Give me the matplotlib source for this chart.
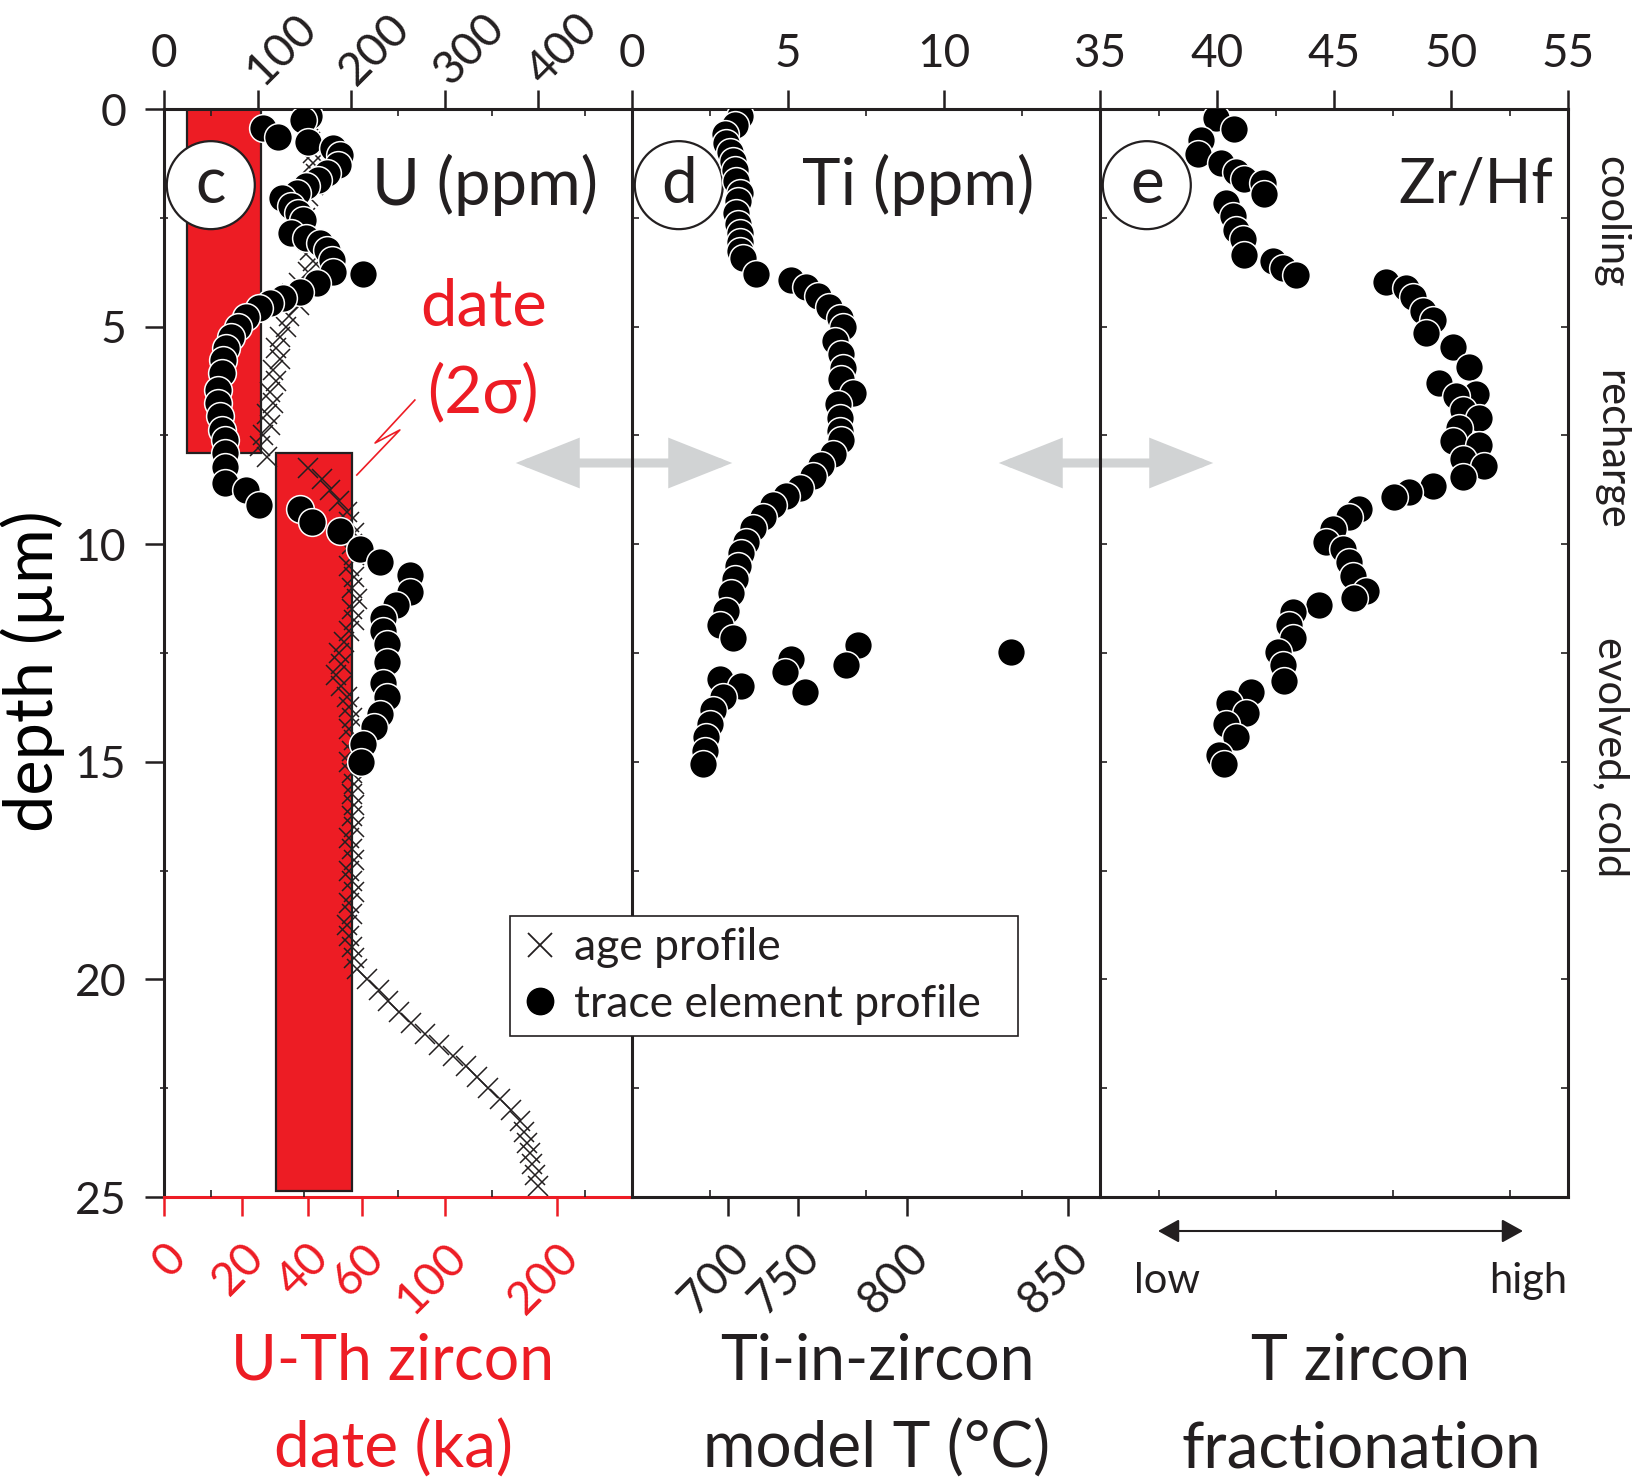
import numpy as np
import matplotlib.pyplot as plt
import matplotlib.transforms as mtransforms
from matplotlib.patches import Rectangle, Ellipse, FancyArrowPatch
from matplotlib.lines import Line2D

plt.rcParams['font.family'] = ['Lato', 'DejaVu Sans']
RED = '#ED1C24'
INK = '#231F20'
GREY = '#D1D3D4'
plt.rcParams['text.color'] = INK
plt.rcParams['axes.edgecolor'] = INK
plt.rcParams['xtick.color'] = INK
plt.rcParams['ytick.color'] = INK

# U-Th age profile: depth (um) and model date (ka)
age_depth = [0.25, 0.5, 0.75, 1.0, 1.25, 1.5, 1.75, 2.0, 2.25, 2.5, 2.75, 3.0, 3.25, 3.5,
             3.75, 4.0, 4.25, 4.5, 4.75, 5.0, 5.25, 5.5, 5.75, 6.0, 6.25, 6.5, 6.75, 7.0,
             7.25, 7.5, 7.75, 8.0, 8.25, 8.5, 8.75, 9.0, 9.25, 9.5, 9.75, 10.0, 10.25,
             10.5, 10.75, 11.0, 11.25, 11.5, 11.75, 12.0, 12.25, 12.5, 12.75, 13.0, 13.25,
             13.5, 13.75, 14.0, 14.25, 14.5, 14.75, 15.0, 15.25, 15.5, 15.75, 16.0, 16.25,
             16.5, 16.75, 17.0, 17.25, 17.5, 17.75, 18.0, 18.25, 18.5, 18.75, 19.0, 19.25,
             19.5, 19.75, 20.0, 20.25, 20.5, 20.75, 21.0, 21.25, 21.5, 21.75, 22.0, 22.25,
             22.5, 22.75, 23.0, 23.25, 23.5, 23.75, 24.0, 24.25, 24.5, 24.75]
age_ka = [40, 41, 41, 42, 42, 43, 42, 40, 38, 39, 39, 40, 41, 42,
          40, 37, 35, 37, 34, 33, 31, 30, 31, 29, 30, 28, 29, 27,
          28, 26, 25, 27, 40, 45, 48, 51, 54, 55, 57, 56, 57,
          55, 57, 56, 58, 56, 57, 55, 53, 51, 52, 50, 52,
          54, 55, 56, 55, 57, 56, 55, 56, 57, 56, 57, 56,
          57, 55, 56, 57, 55, 56, 57, 55, 56, 54, 55, 56,
          57, 58, 62, 67, 71, 76, 82, 89, 97, 105, 113, 121,
          129, 138, 148, 156, 160, 163, 166, 169, 172, 175]

# 2 sigma date ranges (ka) and the depth interval they cover (um)
date_young = [5.4, 29.8]
date_old = [25.5, 56.0]
date_top = [0.0, 7.9]
date_bottom = [7.9, 24.87]

# trace element profiles
u_depth = [0.17, 0.25, 0.44, 0.64, 0.75, 0.9, 1.05, 1.29, 1.47, 1.62, 1.78, 1.93, 2.05, 2.24,
           2.4, 2.55, 2.86, 2.97, 3.09, 3.24, 3.47, 3.74, 3.78, 4.0, 4.2, 4.35, 4.46, 4.57,
           4.77, 5.0, 5.23, 5.5, 5.77, 6.07, 6.45, 6.76, 7.06, 7.37, 7.6, 7.9, 8.22, 8.6,
           8.75, 9.1, 9.2, 9.5, 9.7, 10.1, 10.4, 10.7, 11.1, 11.4, 11.7, 12.0, 12.3, 12.7,
           13.2, 13.5, 13.9, 14.2, 14.6, 15.0]
u_ppm = [155, 149, 106, 122, 154, 181, 188, 186, 174, 164, 152, 142, 126, 136,
         143, 149, 136, 152, 167, 174, 179, 181, 213, 163, 145, 127, 113, 101,
         88, 79, 72, 66, 63, 62, 58, 58, 60, 62, 65, 65, 65, 65,
         88, 102, 145, 158, 188, 209, 231, 263, 263, 248, 234, 234, 238, 238,
         234, 238, 231, 224, 213, 211]

ti_depth = [0.16, 0.36, 0.57, 0.78, 0.98, 1.19, 1.4, 1.66, 1.92, 2.12, 2.38, 2.64, 2.85, 3.05,
            3.26, 3.42, 3.78, 3.93, 4.09, 4.3, 4.55, 4.81, 5.02, 5.33, 5.64, 5.95, 6.21, 6.52,
            6.78, 7.09, 7.4, 7.61, 7.92, 8.18, 8.44, 8.7, 8.9, 9.11, 9.37, 9.63, 9.94, 10.2,
            10.5, 10.8, 11.13, 11.54, 11.85, 12.16, 12.32, 12.47, 12.63, 12.78, 12.94, 13.1,
            13.25, 13.4, 13.5, 13.82, 14.13, 14.44, 14.75, 15.06]
ti_ppm = [3.45, 3.29, 2.97, 3.02, 3.13, 3.24, 3.29, 3.34, 3.45, 3.4, 3.34, 3.4, 3.45, 3.45,
          3.45, 3.56, 3.98, 5.1, 5.59, 5.96, 6.33, 6.66, 6.76, 6.5, 6.71, 6.76, 6.71, 7.08,
          6.6, 6.66, 6.66, 6.71, 6.44, 6.07, 5.8, 5.37, 4.95, 4.52, 4.2, 3.88, 3.66, 3.5,
          3.4, 3.29, 3.18, 3.02, 2.81, 3.24, 7.24, 12.16, 5.1, 6.87, 4.89, 2.81,
          3.5, 5.53, 2.92, 2.6, 2.49, 2.38, 2.33, 2.28]

zr_depth = [0.21, 0.46, 0.72, 1.03, 1.24, 1.44, 1.6, 1.7, 1.96, 2.16, 2.47, 2.78, 2.99, 3.35,
            3.5, 3.66, 3.81, 3.97, 4.12, 4.33, 4.64, 4.85, 5.15, 5.46, 5.93, 6.29, 6.55, 6.6,
            6.91, 7.11, 7.32, 7.63, 7.73, 8.04, 8.2, 8.45, 8.66, 8.81, 8.92, 9.18, 9.38, 9.64,
            9.95, 10.1, 10.41, 10.72, 11.08, 11.24, 11.39, 11.55, 11.86, 12.16, 12.47, 12.78,
            13.14, 13.4, 13.66, 13.87, 14.12, 14.43, 14.85, 15.05]
zr_hf = [39.96, 40.74, 39.32, 39.17, 40.17, 40.81, 41.17, 41.95, 42.02, 40.38, 40.67, 40.81,
         41.1, 41.17, 42.38, 42.81, 43.38, 47.22, 48.08, 48.36, 48.79, 49.22, 48.93, 50.07,
         50.78, 49.5, 51.07, 50.21, 50.5, 51.2, 50.36, 50.07, 51.2, 50.5, 51.42, 50.5,
         49.22, 48.22, 47.58, 46.08, 45.66, 44.94, 44.66, 45.37, 45.66, 45.8, 46.37, 45.87,
         44.37, 43.23, 43.09, 43.23, 42.59, 42.81, 42.88, 41.45, 40.53, 41.24, 40.38, 40.81,
         40.1, 40.31]

u_ticks = [0, 100, 200, 300, 400]
age_ticks = [0, 20, 40, 60, 100, 200]
ti_ticks = [0, 5, 10]
temp_ticks = [700, 750, 800, 850]
zrhf_ticks = [35, 40, 45, 50, 55]
phases = ['cooling', 'recharge', 'evolved, cold']
phase_depth = [2.6, 7.83, 14.9]

LAMBDA230 = 9.1577e-3   # 230Th decay constant, 1/ka
A_TIO2 = 0.51


def age_to_ratio(t):
    # (230Th/238U) activity reached after t ka of ingrowth
    return 1.0 - np.exp(-LAMBDA230 * np.asarray(t, float))


def temp_to_ti(temp_c):
    # Ti-in-zircon thermometer (Ferry & Watson 2007), aSiO2 = 1
    return A_TIO2 * 10 ** (5.711 - 4800.0 / (np.asarray(temp_c, float) + 273.15))


W, H = 1632, 1482
fig = plt.figure(figsize=(W / 100, H / 100), dpi=100)


def panel(x0):
    return [x0 / W, 1 - 1197 / H, 468 / W, 1088 / H]


ax_c = fig.add_axes(panel(164))
ax_d = fig.add_axes(panel(632), sharey=ax_c)
ax_e = fig.add_axes(panel(1100), sharey=ax_c)
ax_u = ax_c.twiny()
ax_t = ax_d.twiny()

SPW = 2.2
TICKFS = 33
for ax in (ax_c, ax_d, ax_e, ax_u, ax_t):
    for s in ax.spines.values():
        s.set_linewidth(SPW)

# ---- panel c: age axis (bottom) ----
for yo, ol, tp, bt in zip(date_young, date_old, date_top, date_bottom):
    x0 = age_to_ratio(yo)
    ax_c.add_patch(Rectangle((x0, tp), age_to_ratio(ol) - x0, bt - tp,
                             facecolor=RED, edgecolor=INK, lw=1.6, zorder=1))
ax_c.plot(age_to_ratio(age_ka), age_depth, ls='none', marker='x', ms=14, mew=1.1,
          color=INK, zorder=2)
ax_c.set_xlim(0, 1)
ax_c.set_ylim(25, 0)
ax_c.set_yticks(np.arange(0, 26, 5))
ax_c.set_yticks(np.arange(2.5, 25, 5), minor=True)
ax_c.tick_params(axis='y', which='major', direction='out', length=14, width=1.8,
                 labelsize=32, pad=13)
ax_c.tick_params(axis='y', which='minor', direction='inout', length=6, width=1.2)
ax_c.set_xticks(age_to_ratio(age_ticks), [str(a) for a in age_ticks])
ax_c.tick_params(axis='x', which='major', direction='out', length=14, width=1.8,
                 labelsize=TICKFS, pad=14, colors=RED, bottom=True, top=False)
ax_c.spines['bottom'].set_color(RED)
ax_c.spines['top'].set_visible(False)
ax_c.spines['right'].set_visible(False)
ax_c.set_ylabel('depth (\u00b5m)', fontsize=48)
ax_c.yaxis.set_label_coords(-0.2115, 0.4835)

# ---- panel c: U (top) ----
ax_u.scatter(u_ppm, u_depth, s=400, c='black', edgecolors='white', linewidths=1.1, zorder=3)
ax_u.set_xlim(0, 500)
ax_u.set_xticks(u_ticks, [str(u) for u in u_ticks])
ax_u.set_xticks(np.arange(50, 500, 100), minor=True)
ax_u.tick_params(axis='x', which='major', direction='out', length=14, width=1.8,
                 labelsize=TICKFS, pad=16.5, top=True, bottom=False)
ax_u.tick_params(axis='x', which='minor', direction='in', length=5, width=1.2,
                 top=True, bottom=True)
for side in ('bottom', 'left', 'right'):
    ax_u.spines[side].set_visible(False)

# ---- panel d ----
ax_d.scatter(ti_ppm, ti_depth, s=400, c='black', edgecolors='white', linewidths=1.1, zorder=3)
ax_d.set_xlim(0, 15)
ax_d.xaxis.tick_top()
ax_d.set_xticks(ti_ticks, [str(t) for t in ti_ticks])
ax_d.set_xticks([2.5, 7.5, 12.5], minor=True)
ax_d.tick_params(axis='x', which='major', direction='out', length=14, width=1.8,
                 labelsize=TICKFS, pad=16.5, top=True, bottom=False)
ax_d.tick_params(axis='x', which='minor', direction='in', length=5, width=1.2,
                 top=True, bottom=True)
ax_d.tick_params(axis='y', which='both', direction='in', length=5, width=1.2,
                 labelleft=False)
ax_d.spines['right'].set_visible(False)

ax_t.set_xlim(0, 15)
ax_t.xaxis.set_ticks_position('bottom')
ax_t.set_xticks(temp_to_ti(temp_ticks), [str(t) for t in temp_ticks])
ax_t.tick_params(axis='x', which='major', direction='out', length=14, width=1.8,
                 labelsize=TICKFS, pad=14, bottom=True, top=False, labelbottom=True,
                 labeltop=False)
for s in ax_t.spines.values():
    s.set_visible(False)

# ---- panel e ----
ax_e.scatter(zr_hf, zr_depth, s=400, c='black', edgecolors='white', linewidths=1.1, zorder=3)
ax_e.set_xlim(35, 55)
ax_e.xaxis.tick_top()
ax_e.set_xticks(zrhf_ticks, [str(z) for z in zrhf_ticks])
ax_e.set_xticks(np.arange(37.5, 55, 2.5), minor=True)
ax_e.tick_params(axis='x', which='major', direction='out', length=14, width=1.8,
                 labelsize=TICKFS, pad=16.5, top=True, bottom=False)
ax_e.tick_params(axis='x', which='minor', direction='in', length=5, width=1.2,
                 top=True, bottom=True)
ax_e.tick_params(axis='y', which='both', direction='in', length=5, width=1.2,
                 labelleft=False, right=True)


# tick label placement
def place(labels, rot, ha, va, dx=0.0, dy=0.0):
    off = mtransforms.ScaledTranslation(dx / 100, dy / 100, fig.dpi_scale_trans)
    for lab in labels:
        lab.set_rotation(rot)
        lab.set_rotation_mode('anchor')
        lab.set_ha(ha)
        lab.set_va(va)
        lab.set_transform(lab.get_transform() + off)


ulabs = ax_u.get_xticklabels()
place(ulabs[:1], 0, 'center', 'baseline')
place(ulabs[1:], 45, 'left', 'baseline', dx=5, dy=-20)
place(ax_d.get_xticklabels(), 0, 'center', 'baseline')
place(ax_e.get_xticklabels(), 0, 'center', 'baseline')
place(ax_c.get_xticklabels(), 45, 'right', 'top')
place(ax_t.get_xticklabels(), 45, 'right', 'top')

# panel letters and headers
for ax, letter, z in ((ax_u, 'c', 6), (ax_d, 'd', 2), (ax_e, 'e', 2)):
    ax.add_patch(Ellipse((0.1, 0.930), 88 / 468, 88 / 1088, transform=ax.transAxes,
                         facecolor='white', edgecolor=INK, lw=1.6, zorder=z))
    ax.text(0.1, 0.930, letter, transform=ax.transAxes, ha='center', va='center',
            fontsize=46, zorder=z + 0.1)

ax_u.text(0.686, 0.930, 'U (ppm)', transform=ax_u.transAxes, ha='center', va='center',
          fontsize=47)
ax_d.text(0.611, 0.930, 'Ti (ppm)', transform=ax_d.transAxes, ha='center', va='center',
          fontsize=47)
ax_e.text(0.803, 0.930, 'Zr/Hf', transform=ax_e.transAxes, ha='center', va='center',
          fontsize=44)

ax_u.text(0.684, 0.818, 'date', transform=ax_u.transAxes, ha='center', va='center',
          fontsize=47, color=RED)
ax_u.text(0.681, 0.739, '(2\u03c3)', transform=ax_u.transAxes, ha='center', va='center',
          fontsize=47, color=RED)
ax_u.plot([0.536, 0.451, 0.504, 0.412], [0.7325, 0.6930, 0.7050, 0.6636],
          transform=ax_u.transAxes, color=RED, lw=1.2, clip_on=False)

# grey double arrows between panels
for ax, xa, xb in ((ax_d, 513, 735), (ax_e, 996, 1216)):
    arr = FancyArrowPatch((xa / W, 1 - 463 / H), (xb / W, 1 - 463 / H),
                          transform=fig.transFigure,
                          arrowstyle='<|-|>,head_length=34,head_width=13.5',
                          mutation_scale=1, lw=6.5, color=GREY, joinstyle='miter',
                          clip_on=False, zorder=1)
    ax.add_artist(arr)

# phase labels on the right
for name, dep in zip(phases, phase_depth):
    ax_e.text(1.092, dep, name, transform=ax_e.get_yaxis_transform(), rotation=-90,
              ha='center', va='center', fontsize=30)

# low -> high arrow under panel e
ax_e.annotate('', xy=(1523 / W, 1 - 1231 / H), xytext=(1158 / W, 1 - 1231 / H),
              xycoords='figure fraction', textcoords='figure fraction',
              arrowprops=dict(arrowstyle='<|-|>,head_length=1.3,head_width=0.72',
                              lw=1.5, color=INK, shrinkA=0, shrinkB=0))
fig.text(1167 / W, 1 - 1293 / H, 'low', ha='center', va='baseline', fontsize=30)
fig.text(1528 / W, 1 - 1293 / H, 'high', ha='center', va='baseline', fontsize=30)

# axis titles below the panels
titles = [(393, 'U-Th zircon', 'date (ka)', RED),
          (877, 'Ti-in-zircon', 'model T (\u00b0C)', INK),
          (1361, 'T zircon', 'fractionation', INK)]
for xc, l1, l2, col in titles:
    fig.text(xc / W, 1 - 1380 / H, l1, ha='center', va='baseline', fontsize=45, color=col)
    fig.text(xc / W, 1 - 1468 / H, l2, ha='center', va='baseline', fontsize=46, color=col)

# legend, stretched to a fixed box
handles = [Line2D([], [], ls='none', marker='x', ms=17, mew=1.3, color=INK),
           Line2D([], [], ls='none', marker='o', ms=19, mfc='black', mec='black')]
leg = fig.legend(handles, ['age profile', 'trace element profile'], loc='upper left',
                 bbox_to_anchor=(510 / W, 1 - 1036 / H, 508 / W, 120 / H),
                 bbox_transform=fig.transFigure, mode='expand',
                 borderaxespad=0, fontsize=32, frameon=True, fancybox=False,
                 edgecolor=INK, framealpha=1, handlelength=0.85, handletextpad=0.35,
                 labelspacing=0.35, borderpad=0.25)
leg.get_frame().set_linewidth(1.2)

fig.savefig('out.png', dpi=100)
